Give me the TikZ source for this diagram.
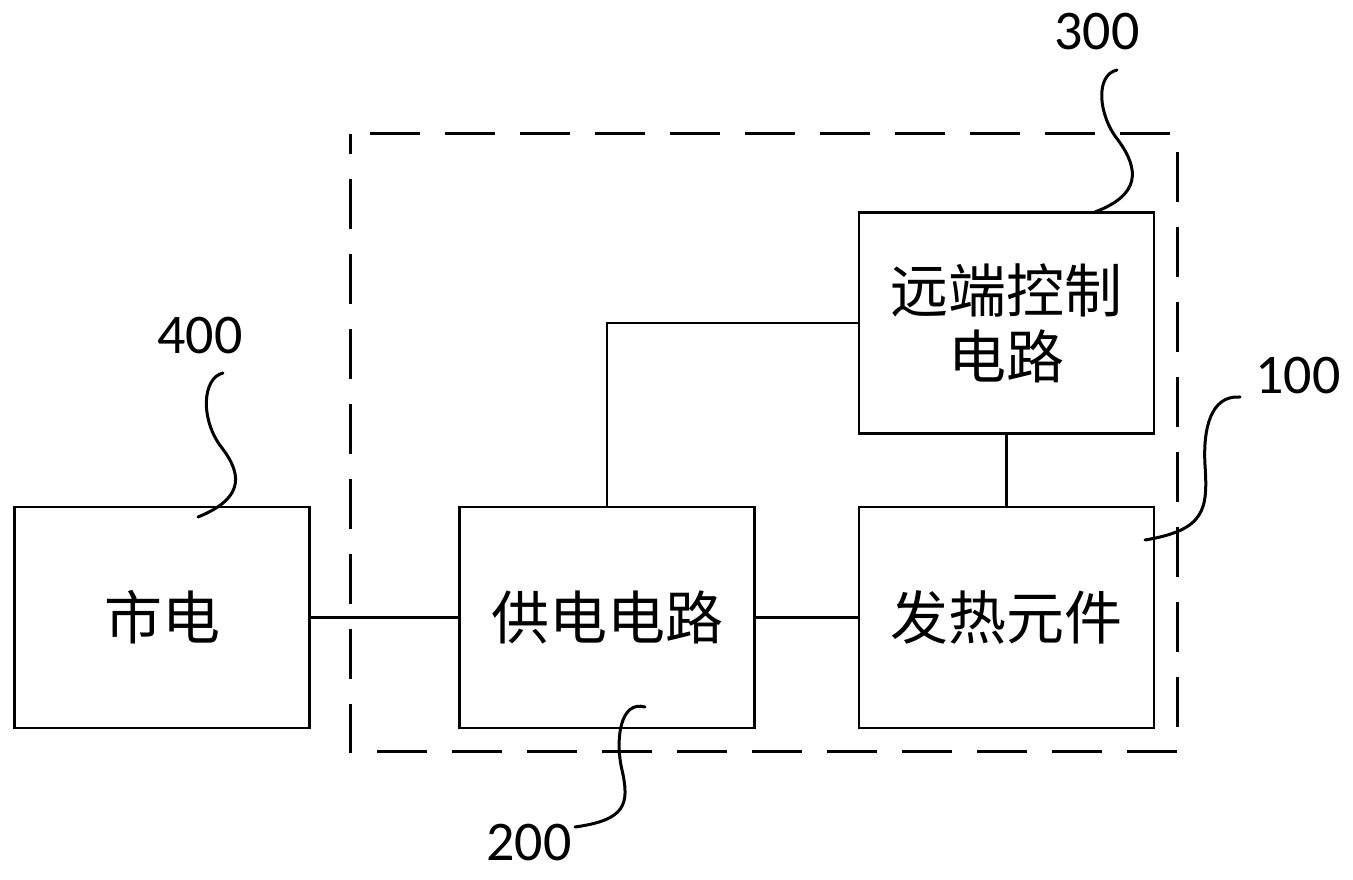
\documentclass[tikz,border=0pt]{standalone}
\usepackage{fontspec}
\setmainfont{Carlito}
\newfontfamily\cjk{Noto Sans CJK SC}
\usetikzlibrary{positioning}
\tikzset{
  blockbox/.style={draw,line width=2.4pt,minimum width=295pt,minimum height=221pt,
    font=\cjk\fontsize{58}{66}\selectfont,align=center,inner sep=0pt},
  numlabel/.style={font=\fontsize{56}{60}\selectfont,inner sep=0pt},
  wire/.style={line width=2.2pt},
  leader/.style={line width=3pt,line cap=round},
}
\begin{document}
\begin{tikzpicture}[x=1pt,y=1pt]
  \useasboundingbox (0,0) rectangle (1353,879);
  % dashed outline round the device
  \draw[line width=3pt,dash pattern=on 50pt off 25pt,dash phase=30pt]
    (350,745) rectangle (1177,127);
  % blocks
  \node[blockbox] (mains)  at (162,261.5)    {市电};
  \node[blockbox] (supply) at (607,261.5)    {供电电路};
  \node[blockbox] (heater) at (1006.5,261.5) {发热元件};
  \node[blockbox] (remote) at (1006.5,556)   {远端控制\\电路};
  % wiring
  \draw[wire] (mains.east) -- (supply.west);
  \draw[wire] (supply.east) -- (heater.west);
  \draw[wire] (supply.north) |- (remote.west);
  \draw[wire] (remote.south) -- (heater.north);
  % reference numerals
  \node[numlabel] (n300) at (1097,847) {300};
  \node[numlabel] (n400) at (200,543)  {400};
  \node[numlabel] (n100) at (1298,503) {100};
  \node[numlabel] (n200) at (529,36)   {200};
  \coordinate (t300) at (1095,667);
  \coordinate (t400) at (198,362);
  \coordinate (t100) at (1145,339);
  \coordinate (t200) at (645,172);
  \draw[leader] (1117,809) .. controls (1095,804) and (1098,764) .. (1118,739)
    .. controls (1140,709) and (1140,684) .. (t300);
  \draw[leader] (223,506) .. controls (202,501) and (200,459) .. (222,431)
    .. controls (245,401) and (240,379) .. (t400);
  \draw[leader] (1240,482) .. controls (1210,484) and (1203,449) .. (1205,414)
    .. controls (1208,369) and (1205,349) .. (t100);
  \draw[leader] (t200) .. controls (620,179) and (615,139) .. (622,109)
    .. controls (630,74) and (625,59) .. (575,52);
\end{tikzpicture}
\end{document}
